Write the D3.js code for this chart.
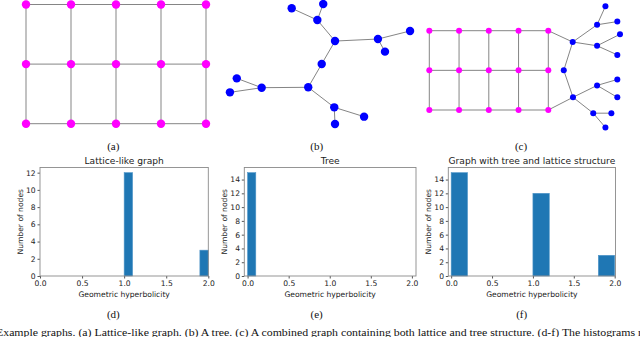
<!DOCTYPE html>
<meta charset="utf-8">
<head>
<title>Example graphs and hyperbolicity histograms</title>
<script src="https://cdn.jsdelivr.net/npm/d3@7/dist/d3.min.js"></script>
<style>
body { margin:0; background:#fff; }
.tick text { font-family:"DejaVu Sans",sans-serif; }
</style>
</head>
<body>
<svg id=mySVG width=640 height=337></svg>

<script>
// ---- graph data (layout units) ----
var latticeCols = [0, 1, 2, 3, 4]
var latticeRows = [0, 1, 2]

// tree (b): layout x, y
var treeX = [3.51, 5.17, 4.86, 5.79, 8.05, 9.74, 8.42, 5.09, 4.38, 1.93, 0.62, 0.26, 5.75, 7.32, 5.79]
var treeY = [0.50, 0.16, 1.43, 3.10, 2.94, 2.30, 3.94, 4.92, 6.77, 6.80, 6.06, 7.17, 8.36, 9.10, 9.68]
var treeEdges = [[0,2],[1,2],[2,3],[3,4],[4,5],[4,6],[3,7],[7,8],[8,9],[9,10],[9,11],[8,12],[12,13],[12,14]]

// combined (c): tree part in lattice units, attached to lattice corners
var combX = [4.82, 5.64, 5.92, 6.32, 5.64, 6.41, 6.32, 4.52, 4.83, 5.64, 6.32, 6.32, 5.51, 6.12, 5.92]
var combY = [0.285, -0.15, -0.615, -0.23, 0.38, 0.09, 0.61, 1.0, 1.68, 1.38, 1.23, 1.68, 2.08, 2.08, 2.44]
var combEdges = [[0,1],[1,2],[1,3],[0,4],[4,5],[4,6],[0,7],[7,8],[8,9],[9,10],[9,11],[8,12],[12,13],[12,14]]
var combAttach = [[[4,0],0],[[4,2],8]]   // lattice node -> tree node

// ---- histogram data ----
var hbTicks = [0, 0.5, 1, 1.5, 2]
var latticeBins = [1.0, 1.9], latticeCounts = [12, 3], latticeWidth = 0.1
var treeBins = [0.0], treeCounts = [15], treeWidth = 0.1
var combBins = [0.0, 1.0, 1.8], combCounts = [15, 12, 3], combWidth = 0.2

var svg = d3.select("#mySVG")
var edgeColor = "#858585"

//-----------lattice helper------------
function drawLattice(g, xs, ys, r, color)
{
   latticeRows.forEach(function(rw){
      g.append("line").attr("x1",xs(latticeCols[0])).attr("x2",xs(latticeCols[latticeCols.length-1]))
       .attr("y1",ys(rw)).attr("y2",ys(rw)).attr("stroke",edgeColor).attr("stroke-width",1)
   })
   latticeCols.forEach(function(c){
      g.append("line").attr("x1",xs(c)).attr("x2",xs(c))
       .attr("y1",ys(latticeRows[0])).attr("y2",ys(latticeRows[latticeRows.length-1]))
       .attr("stroke",edgeColor).attr("stroke-width",1)
   })
   var pts = []
   latticeRows.forEach(function(rw){ latticeCols.forEach(function(c){ pts.push([c,rw]) }) })
   g.selectAll("circle.lat").data(pts).enter().append("circle")
    .attr("cx",function(d){return xs(d[0])}).attr("cy",function(d){return ys(d[1])})
    .attr("r",r).attr("fill",color)
}

//-----------panel (a)------------
var xA = d3.scaleLinear().domain([0,4]).range([26,206])
var yA = d3.scaleLinear().domain([0,2]).range([4.5,123.7])
drawLattice(svg.append("g"), xA, yA, 4.2, "#ff00ff")

//-----------panel (b)------------
var xB = d3.scaleLinear().domain([0,10]).range([225,415])
var yB = d3.scaleLinear().domain([0,10]).range([2,128])
var gB = svg.append("g")
gB.selectAll("line").data(treeEdges).enter().append("line")
  .attr("x1",function(d){return xB(treeX[d[0]])}).attr("y1",function(d){return yB(treeY[d[0]])})
  .attr("x2",function(d){return xB(treeX[d[1]])}).attr("y2",function(d){return yB(treeY[d[1]])})
  .attr("stroke",edgeColor).attr("stroke-width",1)
gB.selectAll("circle").data(treeX).enter().append("circle")
  .attr("cx",function(d){return xB(d)}).attr("cy",function(d,i){return yB(treeY[i])})
  .attr("r",4.2).attr("fill","#0000ff")

//-----------panel (c)------------
var xC = d3.scaleLinear().domain([0,4]).range([429.3,548.3])
var yC = d3.scaleLinear().domain([0,2]).range([30.7,110])
var gC = svg.append("g")
combAttach.forEach(function(a){
   gC.append("line").attr("x1",xC(a[0][0])).attr("y1",yC(a[0][1]))
     .attr("x2",xC(combX[a[1]])).attr("y2",yC(combY[a[1]]))
     .attr("stroke",edgeColor).attr("stroke-width",1)
})
gC.selectAll("line.t").data(combEdges).enter().append("line")
  .attr("x1",function(d){return xC(combX[d[0]])}).attr("y1",function(d){return yC(combY[d[0]])})
  .attr("x2",function(d){return xC(combX[d[1]])}).attr("y2",function(d){return yC(combY[d[1]])})
  .attr("stroke",edgeColor).attr("stroke-width",1)
drawLattice(gC, xC, yC, 3, "#ff00ff")
gC.selectAll("circle.t").data(combX).enter().append("circle")
  .attr("cx",function(d){return xC(d)}).attr("cy",function(d,i){return yC(combY[i])})
  .attr("r",3).attr("fill","#0000ff")

//-----------histograms------------
function buildHist(left, right, xDom, yMax, yTickMax, bins, counts, binWidth, title, yLabX)
{
   var top = 167.5, bottom = 276
   var g = svg.append("g")
   var x = d3.scaleLinear().domain(xDom).range([left,right])
   var y = d3.scaleLinear().domain([0,yMax]).range([bottom,top])

   g.selectAll("rect.bar").data(bins).enter().append("rect")
    .attr("class","bar")
    .attr("x",function(d){return x(d)})
    .attr("width",function(d){return x(d+binWidth)-x(d)})
    .attr("y",function(d,i){return y(counts[i])})
    .attr("height",function(d,i){return bottom-y(counts[i])})
    .attr("fill","#1f77b4")
    .attr("stroke","#4f95c8").attr("stroke-width",0.6)

   var ax = g.append("g").attr("transform","translate(0,"+bottom+")")
    .call(d3.axisBottom(x).tickValues(hbTicks).tickFormat(d3.format(".1f")).tickSize(2.5).tickPadding(1.8))
   var ay = g.append("g").attr("transform","translate("+left+",0)")
    .call(d3.axisLeft(y).tickValues(d3.range(0,yTickMax+1,2)).tickSize(2.5).tickPadding(1.8))
   ;[ax,ay].forEach(function(a){
      a.select(".domain").remove()
      a.selectAll(".tick line").attr("stroke","#555")
      a.selectAll(".tick text").attr("font-size",7.6).attr("fill","#222")
   })

   g.append("rect").attr("x",left).attr("y",top).attr("width",right-left).attr("height",bottom-top)
    .attr("fill","none").attr("stroke","#8a8a8a").attr("stroke-width",0.9)

   g.append("text").text(title)
    .attr("x",(left+right)/2).attr("y",164.2)
    .attr("text-anchor","middle").attr("font-family","DejaVu Sans").attr("font-size",9.1).attr("fill","#222")
   g.append("text").text("Geometric hyperbolicity")
    .attr("x",(left+right)/2).attr("y",296.6)
    .attr("text-anchor","middle").attr("font-family","DejaVu Sans").attr("font-size",7.6).attr("fill","#222")
   g.append("text").text("Number of nodes")
    .attr("transform","translate("+yLabX+","+(top+bottom)/2+") rotate(-90)")
    .attr("text-anchor","middle").attr("font-family","DejaVu Sans").attr("font-size",7.6).attr("fill","#222")
}

buildHist(40, 208.3, [0,2], 12.6, 12, latticeBins, latticeCounts, latticeWidth, "Lattice-like graph", 23.2)
buildHist(244.3, 416, [-0.04,2.05], 15.75, 14, treeBins, treeCounts, treeWidth, "Tree", 226.8)
buildHist(448.3, 615.5, [-0.035,2.01], 15.75, 14, combBins, combCounts, combWidth, "Graph with tree and lattice structure", 430.8)

//-----------sub labels and caption------------
var subLabels = ["(a)","(b)","(c)","(d)","(e)","(f)"]
var subX = [113.3, 316.7, 521, 113.3, 316.7, 521.7]
var subY = [149.5, 149.5, 149.5, 318, 318, 318]
svg.selectAll("text.sub").data(subLabels).enter().append("text")
  .attr("class","sub").text(function(d){return d})
  .attr("x",function(d,i){return subX[i]}).attr("y",function(d,i){return subY[i]})
  .attr("text-anchor","middle").attr("font-family","Liberation Serif").attr("font-size",11).attr("fill","#111")

svg.append("text")
  .text("Example graphs. (a) Lattice-like graph. (b) A tree. (c) A combined graph containing both lattice and tree structure. (d-f) The histograms r")
  .attr("x",-4).attr("y",335.5)
  .attr("textLength",646).attr("lengthAdjust","spacingAndGlyphs")
  .attr("font-family","Liberation Serif").attr("font-size",11.2).attr("fill","#111")
</script>
</body>
